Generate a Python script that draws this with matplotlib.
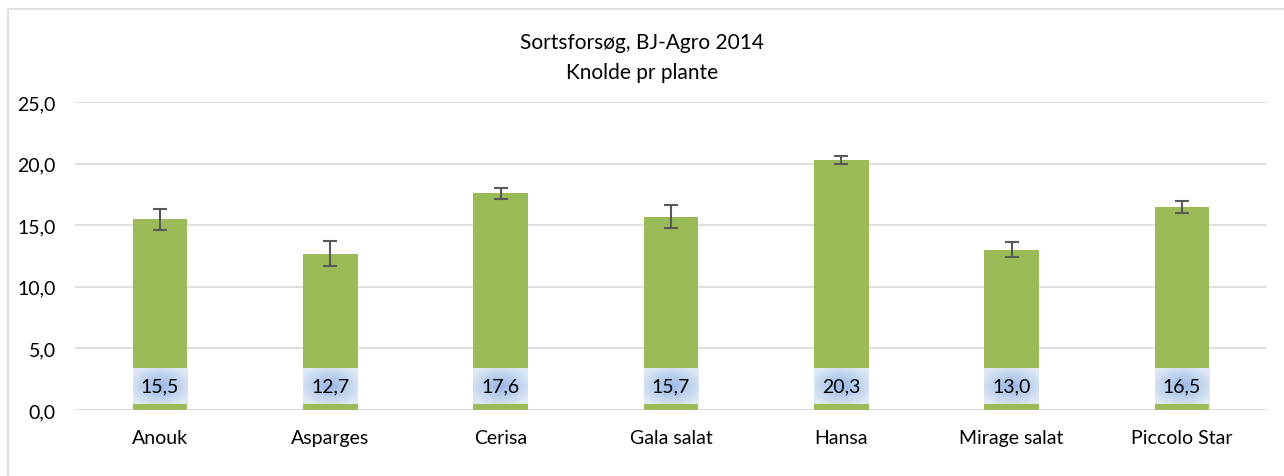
import numpy as np
import matplotlib.pyplot as plt
from matplotlib.patches import Rectangle

plt.rcParams['font.family'] = ['Lato', 'DejaVu Sans']

sorter = ['Anouk', 'Asparges', 'Cerisa', 'Gala salat', 'Hansa', 'Mirage salat', 'Piccolo Star']
knolde = [15.5, 12.7, 17.6, 15.7, 20.3, 13.0, 16.5]
fejl = [0.85, 1.0, 0.45, 0.9, 0.3, 0.6, 0.5]
yticks = [0, 5, 10, 15, 20, 25]

green = '#9bbb59'
grid_col = '#d9d9d9'

fig = plt.figure(figsize=(12.84, 4.77), dpi=100)
# chart frame (Excel style border, running off the right/bottom edge)
fig.patches.append(Rectangle((8 / 1284, -0.1), 1.2, (477 - 10) / 477 + 0.1,
                             transform=fig.transFigure, fill=False,
                             edgecolor=grid_col, linewidth=1.2))

ax = fig.add_axes([75 / 1284, 66 / 477, 1192 / 1284, 308 / 477])
x = np.arange(len(sorter))
w = 0.32
ax.bar(x, knolde, width=w, color=green, zorder=2)
ax.errorbar(x, knolde, yerr=fejl, fmt='none', ecolor='#595959',
            elinewidth=1.5, capsize=5, capthick=1.5, zorder=3)

# data label boxes with a soft radial blue gradient
gx, gy = np.meshgrid(np.linspace(-1, 1, 60), np.linspace(-1, 1, 40))
r = np.clip(np.sqrt(gx ** 2 + gy ** 2) / 1.2, 0, 1)
c0 = np.array([0.60, 0.72, 0.90])
c1 = np.array([0.87, 0.91, 0.96])
grad = c0[None, None, :] * (1 - r[..., None]) + c1[None, None, :] * r[..., None]
lo, hi = 0.5, 3.35
for xi, v in zip(x, knolde):
    ax.imshow(grad, extent=(xi - w / 2, xi + w / 2, lo, hi), aspect='auto',
              zorder=4, interpolation='bilinear')
    ax.text(xi, (lo + hi) / 2, f'{v:.1f}'.replace('.', ','), ha='center',
            va='center', fontsize=14, color='#000000', zorder=5)

ax.set_xlim(-0.5, len(sorter) - 0.5)
ax.set_ylim(0, 25)
ax.set_yticks(yticks)
ax.set_yticklabels([f'{t:.1f}'.replace('.', ',') for t in yticks], fontsize=14)
ax.set_xticks(x)
ax.set_xticklabels(sorter, fontsize=14)
ax.tick_params(length=0)
ax.tick_params(axis='y', pad=14)
ax.tick_params(axis='x', pad=14)
ax.grid(axis='y', color=grid_col, linewidth=1.2, zorder=0)
ax.set_axisbelow(True)
for s in ax.spines.values():
    s.set_visible(False)
ax.axhline(0, color=grid_col, linewidth=1.2, zorder=1)

fig.text(0.5, 1 - 43 / 477, 'Sortsforsøg, BJ-Agro 2014', ha='center', va='center', fontsize=15)
fig.text(0.5, 1 - 73 / 477, 'Knolde pr plante', ha='center', va='center', fontsize=15)

fig.savefig('out.png', dpi=100)
